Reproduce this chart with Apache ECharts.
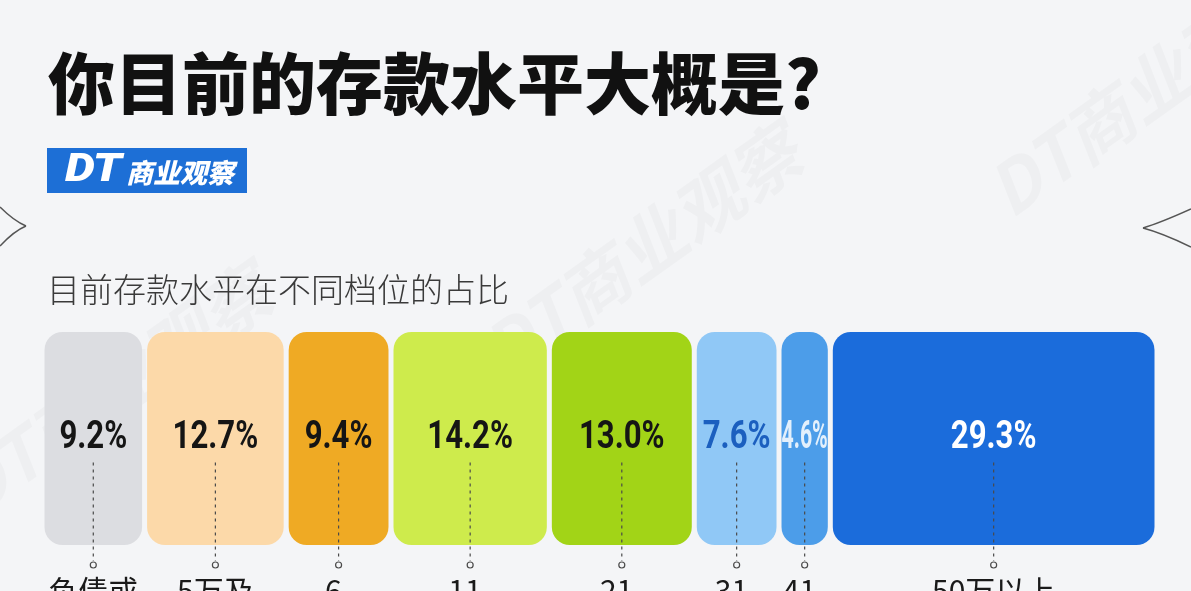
<!DOCTYPE html>
<html>
<head>
<meta charset="utf-8">
<script src="https://cdn.jsdelivr.net/npm/echarts@6/dist/echarts.min.js"></script>
<style>
html,body{margin:0;padding:0;background:#f4f5f7;}
#chart{width:1191px;height:591px;}
</style>
</head>
<body>
<div id="chart"></div>
<script>
// ---- data ----
const titleText = '你目前的存款水平大概是?';
const subtitleText = '目前存款水平在不同档位的占比';
const categories = ['负债或\n无存款', '5万及\n以下', '6-\n10万', '11-\n20万', '21-\n30万', '31-\n40万', '41-\n50万', '50万以上'];
const values = [9.2, 12.7, 9.4, 14.2, 13.0, 7.6, 4.6, 29.3];

// ---- styles ----
const barColors = ['#dcdde1', '#fcd9a9', '#efaa24', '#ceeb4c', '#a2d417', '#90c8f6', '#4c9de9', '#1b6cdb'];
const labelColors = ['#151515', '#151515', '#151515', '#151515', '#151515', '#1b5fbf', '#e3f0fc', '#ffffff'];
const labelScale = [0.82, 0.82, 0.82, 0.82, 0.82, 0.82, 0.56, 0.82];
const BG = '#f4f5f7';

// build cumulative spans for the library's value axis
const seriesData = [];
let acc = 0;
values.forEach((v, i) => {
  seriesData.push([acc, acc + v, v, i]);
  acc += v;
});

const chart = echarts.init(document.getElementById('chart'), null, {renderer: 'canvas'});

const wm = 'rgba(0,0,0,0.025)';
const option = {
  backgroundColor: BG,
  animation: false,
  grid: {left: 42, right: 34, top: 332, bottom: 46},
  xAxis: {type: 'value', min: 0, max: 100, show: false},
  yAxis: {type: 'value', min: 0, max: 1, show: false},
  graphic: [
    // watermarks
    {type: 'text', x: 975, y: 170, rotation: 0.62, silent: true,
      style: {text: 'DT商业观察', fontSize: 70, fontWeight: 'bold', fontStyle: 'italic', fill: wm, fontFamily: 'Noto Sans CJK SC'}},
    {type: 'text', x: 470, y: 330, rotation: 0.62, silent: true,
      style: {text: 'DT商业观察', fontSize: 70, fontWeight: 'bold', fontStyle: 'italic', fill: wm, fontFamily: 'Noto Sans CJK SC'}},
    {type: 'text', x: -60, y: 470, rotation: 0.62, silent: true,
      style: {text: 'DT商业观察', fontSize: 70, fontWeight: 'bold', fontStyle: 'italic', fill: wm, fontFamily: 'Noto Sans CJK SC'}},
    // decorative arrow tips
    {type: 'bezierCurve', silent: true, shape: {x1: 0, y1: 207, cpx1: 14, cpy1: 221, x2: 26, y2: 226},
      style: {fill: 'none', stroke: '#555', lineWidth: 1.5}},
    {type: 'bezierCurve', silent: true, shape: {x1: 26, y1: 226, cpx1: 14, cpy1: 231, x2: 0, y2: 246},
      style: {fill: 'none', stroke: '#555', lineWidth: 1.5}},
    {type: 'bezierCurve', silent: true, shape: {x1: 1191, y1: 209, cpx1: 1160, cpy1: 223, x2: 1143, y2: 228},
      style: {fill: 'none', stroke: '#555', lineWidth: 1.5}},
    {type: 'bezierCurve', silent: true, shape: {x1: 1143, y1: 228, cpx1: 1162, cpy1: 233, x2: 1191, y2: 247},
      style: {fill: 'none', stroke: '#555', lineWidth: 1.5}},
    // title
    {type: 'text', left: 48, top: 50,
      style: {text: titleText, fontSize: 67, fontWeight: 900, fill: '#111111', fontFamily: 'Noto Sans CJK SC'}},
    // logo
    {type: 'rect', left: 47, top: 148, shape: {width: 200, height: 45},
      style: {fill: '#1d6fd6'}},
    {type: 'text', x: 65, y: 171, scaleX: 1.25,
      style: {text: 'DT', fontSize: 38, fontWeight: 900, fontStyle: 'italic', fill: '#ffffff',
        fontFamily: 'Roboto', verticalAlign: 'middle'}},
    {type: 'text', x: 126, y: 173,
      style: {text: '商业观察', fontSize: 27, fontWeight: 900, fontStyle: 'italic', fill: '#ffffff',
        fontFamily: 'Noto Sans CJK SC', verticalAlign: 'middle'}},
    // subtitle
    {type: 'text', left: 47, top: 273,
      style: {text: subtitleText, fontSize: 33, fontWeight: 300, fill: '#3a3a3a', fontFamily: 'Noto Sans CJK SC'}}
  ],
  series: [{
    type: 'custom',
    data: seriesData,
    encode: {x: [0, 1]},
    clip: false,
    renderItem: function (params, api) {
      const s = api.value(0), e = api.value(1), v = api.value(2), i = api.value(3);
      const pTop = api.coord([s, 1]);
      const pBot = api.coord([e, 0]);
      const gap = 2.5;
      const x = pTop[0] + gap;
      const w = pBot[0] - pTop[0] - 2 * gap;
      const y = pTop[1];
      const h = pBot[1] - pTop[1];
      const cx = (pTop[0] + pBot[0]) / 2;
      const cy = y + h / 2;
      const r = Math.min(18, w / 2 - 1);
      return {
        type: 'group',
        children: [
          {type: 'rect', shape: {x: x, y: y, width: w, height: h, r: r},
            style: {fill: barColors[i]}},
          {type: 'text', x: cx, y: cy, scaleX: labelScale[i],
            style: {text: v.toFixed(1) + '%', fontSize: 38, fontWeight: 'bold', fill: labelColors[i],
              fontFamily: 'Roboto', align: 'center', verticalAlign: 'middle'}},
          {type: 'line', shape: {x1: cx, y1: cy + 24, x2: cx, y2: pBot[1] + 16},
            style: {stroke: '#4a4a4a', lineWidth: 1.2, lineDash: [3, 4]}},
          {type: 'circle', shape: {cx: cx, cy: pBot[1] + 20, r: 3},
            style: {fill: BG, stroke: '#4a4a4a', lineWidth: 1.2}},
          {type: 'text', x: cx, y: pBot[1] + 29,
            style: {text: categories[i], fontSize: 30, lineHeight: 34, fill: '#1a1a1a',
              fontFamily: 'Noto Sans CJK SC', align: 'center', verticalAlign: 'top'}}
        ]
      };
    }
  }]
};
chart.setOption(option);
</script>
</body>
</html>
